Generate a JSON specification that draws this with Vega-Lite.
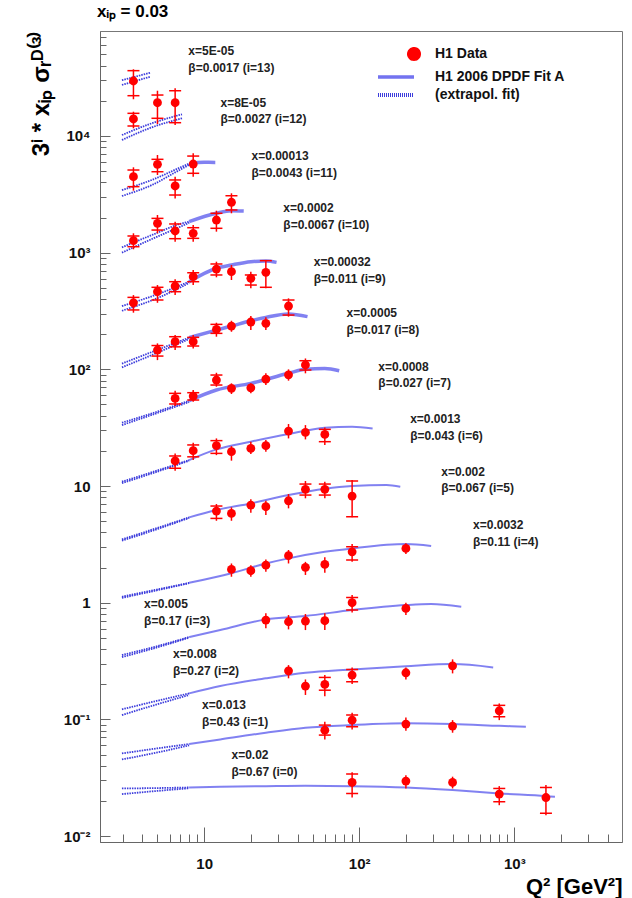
{
  "$schema": "https://vega.github.io/schema/vega-lite/v6.json",
  "width": 522,
  "height": 811,
  "autosize": {"type": "none"},
  "padding": {"left": 100, "top": 31, "right": 10, "bottom": 56},
  "background": "white",
  "config": {
    "view": {"stroke": "#777", "strokeWidth": 1},
    "font": "Liberation Sans"
  },
  "title": {
    "text": "xᵢₚ = 0.03",
    "anchor": "start",
    "frame": "group",
    "fontSize": 17,
    "font": "Liberation Sans",
    "fontWeight": "bold",
    "color": "#000",
    "offset": 10,
    "dx": -3
  },
  "datasets": {
    "pts": [
      {"i": 13, "q2": 3.5, "v": 29600, "lo": 20650, "hi": 37300, "slo": 22150, "shi": 36300},
      {"i": 12, "q2": 3.5, "v": 13990, "lo": 11640, "hi": 16150, "slo": 12180, "shi": 15640},
      {"i": 12, "q2": 5, "v": 19280, "lo": 12670, "hi": 24430, "slo": 14180, "shi": 22440},
      {"i": 12, "q2": 6.5, "v": 19280, "lo": 12420, "hi": 25650, "slo": 13000, "shi": 24430},
      {"i": 11, "q2": 3.5, "v": 4480, "lo": 3400, "hi": 5390, "slo": 3680, "shi": 5110},
      {"i": 11, "q2": 5, "v": 5720, "lo": 4630, "hi": 6870, "slo": 4940, "shi": 6310},
      {"i": 11, "q2": 6.5, "v": 3730, "lo": 2920, "hi": 4480, "slo": 3120, "shi": 4200},
      {"i": 11, "q2": 8.5, "v": 5750, "lo": 4480, "hi": 7100, "slo": 4790, "shi": 6730},
      {"i": 10, "q2": 3.5, "v": 1267, "lo": 1069, "hi": 1466, "slo": 1125, "shi": 1390},
      {"i": 10, "q2": 5, "v": 1783, "lo": 1466, "hi": 2104, "slo": 1563, "shi": 1968},
      {"i": 10, "q2": 6.5, "v": 1535, "lo": 1243, "hi": 1845, "slo": 1318, "shi": 1762},
      {"i": 10, "q2": 8.5, "v": 1466, "lo": 1243, "hi": 1726, "slo": 1327, "shi": 1637},
      {"i": 10, "q2": 12, "v": 1905, "lo": 1514, "hi": 2290, "slo": 1618, "shi": 2175},
      {"i": 10, "q2": 15, "v": 2703, "lo": 2175, "hi": 3227, "slo": 2322, "shi": 3076},
      {"i": 9, "q2": 3.5, "v": 372, "lo": 306, "hi": 433, "slo": 323, "shi": 414},
      {"i": 9, "q2": 5, "v": 463, "lo": 372, "hi": 528, "slo": 393, "shi": 505},
      {"i": 9, "q2": 6.5, "v": 518, "lo": 433, "hi": 591, "slo": 463, "shi": 564},
      {"i": 9, "q2": 8.5, "v": 623, "lo": 528, "hi": 710, "slo": 564, "shi": 673},
      {"i": 9, "q2": 12, "v": 724, "lo": 615, "hi": 837, "slo": 644, "shi": 800},
      {"i": 9, "q2": 15, "v": 687, "lo": 583, "hi": 784},
      {"i": 9, "q2": 20, "v": 603, "lo": 495, "hi": 687, "slo": 528, "shi": 644},
      {"i": 9, "q2": 25, "v": 678, "lo": 495, "hi": 865, "slo": 505, "shi": 854},
      {"i": 8, "q2": 5, "v": 146.5, "lo": 120, "hi": 167, "slo": 130, "shi": 160},
      {"i": 8, "q2": 6.5, "v": 172.6, "lo": 146.5, "hi": 197, "slo": 156, "shi": 190.5},
      {"i": 8, "q2": 8.5, "v": 172.6, "lo": 151, "hi": 197, "slo": 158.5, "shi": 188},
      {"i": 8, "q2": 12, "v": 220, "lo": 190.5, "hi": 251, "slo": 203.5, "shi": 243},
      {"i": 8, "q2": 15, "v": 235, "lo": 210, "hi": 261},
      {"i": 8, "q2": 20, "v": 254.5, "lo": 217, "hi": 286},
      {"i": 8, "q2": 25, "v": 248, "lo": 217, "hi": 279},
      {"i": 8, "q2": 35, "v": 349, "lo": 283, "hi": 406, "slo": 292, "shi": 393},
      {"i": 7, "q2": 6.5, "v": 56.4, "lo": 48.5, "hi": 65.6, "slo": 50.5, "shi": 62.3},
      {"i": 7, "q2": 8.5, "v": 59, "lo": 52.8, "hi": 66.5, "slo": 54.6, "shi": 63.1},
      {"i": 7, "q2": 12, "v": 81, "lo": 71, "hi": 93.5, "slo": 73.4, "shi": 89.4},
      {"i": 7, "q2": 15, "v": 68.8, "lo": 61.5, "hi": 75.9},
      {"i": 7, "q2": 20, "v": 69.5, "lo": 62.3, "hi": 75.9},
      {"i": 7, "q2": 25, "v": 82.4, "lo": 73.4, "hi": 92.5},
      {"i": 7, "q2": 35, "v": 89.7, "lo": 80, "hi": 100},
      {"i": 7, "q2": 45, "v": 109, "lo": 92.5, "hi": 124, "slo": 98.7, "shi": 118.6},
      {"i": 6, "q2": 6.5, "v": 16.4, "lo": 13.5, "hi": 19.05, "slo": 14.2, "shi": 18.1},
      {"i": 6, "q2": 8.5, "v": 20.1, "lo": 16.7, "hi": 23.5, "slo": 17.8, "shi": 22.5},
      {"i": 6, "q2": 12, "v": 22.2, "lo": 18.4, "hi": 25.6, "slo": 19.05, "shi": 24.5},
      {"i": 6, "q2": 15, "v": 19.7, "lo": 16.5, "hi": 22},
      {"i": 6, "q2": 20, "v": 21, "lo": 18.8, "hi": 24},
      {"i": 6, "q2": 25, "v": 22.2, "lo": 19.7, "hi": 24.8},
      {"i": 6, "q2": 35, "v": 29.6, "lo": 25.6, "hi": 34},
      {"i": 6, "q2": 45, "v": 28.8, "lo": 25.1, "hi": 33.3},
      {"i": 6, "q2": 60, "v": 27.7, "lo": 22.5, "hi": 31.8, "slo": 24, "shi": 30.6},
      {"i": 5, "q2": 12, "v": 6.1, "lo": 5.04, "hi": 7.01, "slo": 5.28, "shi": 6.74},
      {"i": 5, "q2": 15, "v": 5.83, "lo": 5.04, "hi": 6.57},
      {"i": 5, "q2": 20, "v": 6.87, "lo": 5.9, "hi": 7.69},
      {"i": 5, "q2": 25, "v": 6.65, "lo": 5.64, "hi": 7.48},
      {"i": 5, "q2": 35, "v": 7.48, "lo": 6.44, "hi": 8.54},
      {"i": 5, "q2": 45, "v": 9.37, "lo": 7.85, "hi": 11.04, "slo": 8.37, "shi": 10.4},
      {"i": 5, "q2": 60, "v": 9.37, "lo": 7.85, "hi": 10.9, "slo": 8.37, "shi": 10.4},
      {"i": 5, "q2": 90, "v": 8.2, "lo": 5.39, "hi": 11.25, "slo": 5.46, "shi": 11.04},
      {"i": 4, "q2": 15, "v": 1.93, "lo": 1.67, "hi": 2.17},
      {"i": 4, "q2": 20, "v": 1.88, "lo": 1.67, "hi": 2.1},
      {"i": 4, "q2": 25, "v": 2.1, "lo": 1.84, "hi": 2.35},
      {"i": 4, "q2": 35, "v": 2.53, "lo": 2.17, "hi": 2.83},
      {"i": 4, "q2": 45, "v": 2.01, "lo": 1.73, "hi": 2.24},
      {"i": 4, "q2": 60, "v": 2.13, "lo": 1.81, "hi": 2.45},
      {"i": 4, "q2": 90, "v": 2.73, "lo": 2.24, "hi": 3.18, "slo": 2.32, "shi": 3.02},
      {"i": 4, "q2": 200, "v": 2.92, "lo": 2.61, "hi": 3.23},
      {"i": 3, "q2": 25, "v": 0.71, "lo": 0.603, "hi": 0.811},
      {"i": 3, "q2": 35, "v": 0.687, "lo": 0.591, "hi": 0.784},
      {"i": 3, "q2": 45, "v": 0.697, "lo": 0.583, "hi": 0.8},
      {"i": 3, "q2": 60, "v": 0.701, "lo": 0.583, "hi": 0.811},
      {"i": 3, "q2": 90, "v": 1.0, "lo": 0.826, "hi": 1.164, "slo": 0.865, "shi": 1.11},
      {"i": 3, "q2": 200, "v": 0.894, "lo": 0.784, "hi": 1.0},
      {"i": 2, "q2": 35, "v": 0.261, "lo": 0.225, "hi": 0.292},
      {"i": 2, "q2": 45, "v": 0.193, "lo": 0.162, "hi": 0.22},
      {"i": 2, "q2": 60, "v": 0.1995, "lo": 0.158, "hi": 0.24, "slo": 0.178, "shi": 0.229},
      {"i": 2, "q2": 90, "v": 0.24, "lo": 0.201, "hi": 0.279, "slo": 0.21, "shi": 0.268},
      {"i": 2, "q2": 200, "v": 0.251, "lo": 0.22, "hi": 0.279},
      {"i": 2, "q2": 400, "v": 0.288, "lo": 0.248, "hi": 0.327},
      {"i": 1, "q2": 60, "v": 0.0809, "lo": 0.0674, "hi": 0.0954, "slo": 0.0734, "shi": 0.0894},
      {"i": 1, "q2": 90, "v": 0.0986, "lo": 0.082, "hi": 0.114, "slo": 0.0866, "shi": 0.109},
      {"i": 1, "q2": 200, "v": 0.0912, "lo": 0.08, "hi": 0.104},
      {"i": 1, "q2": 400, "v": 0.0877, "lo": 0.0769, "hi": 0.0986},
      {"i": 1, "q2": 800, "v": 0.1186, "lo": 0.0986, "hi": 0.137, "slo": 0.1054, "shi": 0.132},
      {"i": 0, "q2": 90, "v": 0.0288, "lo": 0.0214, "hi": 0.0352, "slo": 0.0232, "shi": 0.034},
      {"i": 0, "q2": 200, "v": 0.0296, "lo": 0.0256, "hi": 0.0333},
      {"i": 0, "q2": 400, "v": 0.0288, "lo": 0.0256, "hi": 0.0323},
      {"i": 0, "q2": 800, "v": 0.0229, "lo": 0.0184, "hi": 0.0268, "slo": 0.0197, "shi": 0.0256},
      {"i": 0, "q2": 1600, "v": 0.0214, "lo": 0.0151, "hi": 0.0274, "slo": 0.0157, "shi": 0.0261}
    ],
    "fit": [
      {"i": 11, "q2": 8, "v": 5800}, {"i": 11, "q2": 10, "v": 5950}, {"i": 11, "q2": 11.8, "v": 5940},
      {"i": 10, "q2": 8, "v": 1845}, {"i": 10, "q2": 12, "v": 2175}, {"i": 10, "q2": 15, "v": 2290}, {"i": 10, "q2": 18, "v": 2275},
      {"i": 9, "q2": 8, "v": 564}, {"i": 9, "q2": 12, "v": 735}, {"i": 9, "q2": 15, "v": 784}, {"i": 9, "q2": 20, "v": 837}, {"i": 9, "q2": 25, "v": 848}, {"i": 9, "q2": 29.3, "v": 826},
      {"i": 8, "q2": 8, "v": 187}, {"i": 8, "q2": 12, "v": 217}, {"i": 8, "q2": 15, "v": 235}, {"i": 8, "q2": 20, "v": 261}, {"i": 8, "q2": 25, "v": 279}, {"i": 8, "q2": 35, "v": 298}, {"i": 8, "q2": 46.4, "v": 283},
      {"i": 7, "q2": 8, "v": 53.8}, {"i": 7, "q2": 12, "v": 66.5}, {"i": 7, "q2": 20, "v": 75.9}, {"i": 7, "q2": 35, "v": 92.5}, {"i": 7, "q2": 45, "v": 100}, {"i": 7, "q2": 60, "v": 101.9}, {"i": 7, "q2": 74.3, "v": 97.3},
      {"i": 6, "q2": 8, "v": 16.7}, {"i": 6, "q2": 12, "v": 20.6}, {"i": 6, "q2": 20, "v": 24}, {"i": 6, "q2": 35, "v": 27.9}, {"i": 6, "q2": 60, "v": 31.6}, {"i": 6, "q2": 90, "v": 32.3}, {"i": 6, "q2": 122, "v": 31.2},
      {"i": 5, "q2": 8, "v": 5.39}, {"i": 5, "q2": 12, "v": 6.23}, {"i": 5, "q2": 20, "v": 7.1}, {"i": 5, "q2": 35, "v": 8.37}, {"i": 5, "q2": 60, "v": 9.48}, {"i": 5, "q2": 90, "v": 10}, {"i": 5, "q2": 150, "v": 10.2}, {"i": 5, "q2": 184, "v": 9.87},
      {"i": 4, "q2": 8, "v": 1.48}, {"i": 4, "q2": 15, "v": 1.79}, {"i": 4, "q2": 25, "v": 2.17}, {"i": 4, "q2": 35, "v": 2.4}, {"i": 4, "q2": 60, "v": 2.73}, {"i": 4, "q2": 90, "v": 2.92}, {"i": 4, "q2": 200, "v": 3.18}, {"i": 4, "q2": 291, "v": 3.06},
      {"i": 3, "q2": 8, "v": 0.508}, {"i": 3, "q2": 12.7, "v": 0.583}, {"i": 3, "q2": 25, "v": 0.72}, {"i": 3, "q2": 45, "v": 0.77}, {"i": 3, "q2": 90, "v": 0.865}, {"i": 3, "q2": 200, "v": 0.955}, {"i": 3, "q2": 291, "v": 0.975}, {"i": 3, "q2": 455, "v": 0.924},
      {"i": 2, "q2": 8, "v": 0.167}, {"i": 2, "q2": 12.7, "v": 0.193}, {"i": 2, "q2": 25, "v": 0.225}, {"i": 2, "q2": 45, "v": 0.251}, {"i": 2, "q2": 90, "v": 0.268}, {"i": 2, "q2": 200, "v": 0.286}, {"i": 2, "q2": 400, "v": 0.298}, {"i": 2, "q2": 731, "v": 0.279},
      {"i": 1, "q2": 8, "v": 0.0615}, {"i": 1, "q2": 12.7, "v": 0.0674}, {"i": 1, "q2": 25, "v": 0.0769}, {"i": 1, "q2": 45, "v": 0.0848}, {"i": 1, "q2": 90, "v": 0.0894}, {"i": 1, "q2": 200, "v": 0.0925}, {"i": 1, "q2": 400, "v": 0.0912}, {"i": 1, "q2": 800, "v": 0.0882}, {"i": 1, "q2": 1188, "v": 0.0866},
      {"i": 0, "q2": 8, "v": 0.0261}, {"i": 0, "q2": 12.7, "v": 0.0265}, {"i": 0, "q2": 25, "v": 0.0268}, {"i": 0, "q2": 45, "v": 0.027}, {"i": 0, "q2": 90, "v": 0.0268}, {"i": 0, "q2": 200, "v": 0.0261}, {"i": 0, "q2": 400, "v": 0.0248}, {"i": 0, "q2": 800, "v": 0.0232}, {"i": 0, "q2": 1600, "v": 0.022}, {"i": 0, "q2": 1829, "v": 0.0217}
    ],
    "ext": [
      {"i": 13, "e": "u", "q2": 2.95, "v": 30100}, {"i": 13, "e": "u", "q2": 4.49, "v": 34800},
      {"i": 13, "e": "l", "q2": 2.95, "v": 27400}, {"i": 13, "e": "l", "q2": 4.49, "v": 32200},
      {"i": 12, "e": "u", "q2": 2.95, "v": 10190}, {"i": 12, "e": "u", "q2": 4.6, "v": 12850}, {"i": 12, "e": "u", "q2": 7.2, "v": 15350},
      {"i": 12, "e": "l", "q2": 2.95, "v": 9240}, {"i": 12, "e": "l", "q2": 4.6, "v": 11860}, {"i": 12, "e": "l", "q2": 7.2, "v": 14180},
      {"i": 11, "e": "u", "q2": 2.95, "v": 3440}, {"i": 11, "e": "u", "q2": 4.6, "v": 4200}, {"i": 11, "e": "u", "q2": 7.2, "v": 5460}, {"i": 11, "e": "u", "q2": 8, "v": 5800},
      {"i": 11, "e": "l", "q2": 2.95, "v": 3060}, {"i": 11, "e": "l", "q2": 4.6, "v": 3800}, {"i": 11, "e": "l", "q2": 7.2, "v": 5250}, {"i": 11, "e": "l", "q2": 8, "v": 5650},
      {"i": 10, "e": "u", "q2": 2.95, "v": 1111}, {"i": 10, "e": "u", "q2": 4.6, "v": 1416}, {"i": 10, "e": "u", "q2": 7.2, "v": 1783}, {"i": 10, "e": "u", "q2": 8, "v": 1845},
      {"i": 10, "e": "l", "q2": 2.95, "v": 1000}, {"i": 10, "e": "l", "q2": 4.6, "v": 1309}, {"i": 10, "e": "l", "q2": 7.2, "v": 1693}, {"i": 10, "e": "l", "q2": 8, "v": 1800},
      {"i": 9, "e": "u", "q2": 2.95, "v": 349}, {"i": 9, "e": "u", "q2": 5, "v": 440}, {"i": 9, "e": "u", "q2": 8, "v": 564},
      {"i": 9, "e": "l", "q2": 2.95, "v": 318}, {"i": 9, "e": "l", "q2": 5, "v": 408}, {"i": 9, "e": "l", "q2": 8, "v": 550},
      {"i": 8, "e": "u", "q2": 2.95, "v": 112}, {"i": 8, "e": "u", "q2": 5, "v": 147}, {"i": 8, "e": "u", "q2": 8, "v": 187},
      {"i": 8, "e": "l", "q2": 2.95, "v": 104}, {"i": 8, "e": "l", "q2": 5, "v": 139}, {"i": 8, "e": "l", "q2": 8, "v": 182},
      {"i": 7, "e": "u", "q2": 2.95, "v": 34.9}, {"i": 7, "e": "u", "q2": 5, "v": 43.5}, {"i": 7, "e": "u", "q2": 8, "v": 53.8},
      {"i": 7, "e": "l", "q2": 2.95, "v": 33.3}, {"i": 7, "e": "l", "q2": 5, "v": 42.3}, {"i": 7, "e": "l", "q2": 8, "v": 52.5},
      {"i": 6, "e": "u", "q2": 2.95, "v": 10.9}, {"i": 6, "e": "u", "q2": 5, "v": 13.6}, {"i": 6, "e": "u", "q2": 8, "v": 16.7},
      {"i": 6, "e": "l", "q2": 2.95, "v": 10.6}, {"i": 6, "e": "l", "q2": 5, "v": 13.3}, {"i": 6, "e": "l", "q2": 8, "v": 16.5},
      {"i": 5, "e": "u", "q2": 2.95, "v": 3.49}, {"i": 5, "e": "u", "q2": 5, "v": 4.38}, {"i": 5, "e": "u", "q2": 8, "v": 5.39},
      {"i": 5, "e": "l", "q2": 2.95, "v": 3.4}, {"i": 5, "e": "l", "q2": 5, "v": 4.28}, {"i": 5, "e": "l", "q2": 8, "v": 5.33},
      {"i": 4, "e": "u", "q2": 2.95, "v": 1.125}, {"i": 4, "e": "u", "q2": 5, "v": 1.3}, {"i": 4, "e": "u", "q2": 8, "v": 1.48},
      {"i": 4, "e": "l", "q2": 2.95, "v": 1.1}, {"i": 4, "e": "l", "q2": 5, "v": 1.28}, {"i": 4, "e": "l", "q2": 8, "v": 1.47},
      {"i": 3, "e": "u", "q2": 2.95, "v": 0.356}, {"i": 3, "e": "u", "q2": 5, "v": 0.425}, {"i": 3, "e": "u", "q2": 8, "v": 0.508},
      {"i": 3, "e": "l", "q2": 2.95, "v": 0.342}, {"i": 3, "e": "l", "q2": 5, "v": 0.415}, {"i": 3, "e": "l", "q2": 8, "v": 0.503},
      {"i": 2, "e": "u", "q2": 2.95, "v": 0.122}, {"i": 2, "e": "u", "q2": 5, "v": 0.1446}, {"i": 2, "e": "u", "q2": 8, "v": 0.167},
      {"i": 2, "e": "l", "q2": 2.95, "v": 0.109}, {"i": 2, "e": "l", "q2": 5, "v": 0.135}, {"i": 2, "e": "l", "q2": 8, "v": 0.162},
      {"i": 1, "e": "u", "q2": 2.95, "v": 0.0511}, {"i": 1, "e": "u", "q2": 5, "v": 0.0565}, {"i": 1, "e": "u", "q2": 8, "v": 0.0615},
      {"i": 1, "e": "l", "q2": 2.95, "v": 0.0454}, {"i": 1, "e": "l", "q2": 5, "v": 0.0521}, {"i": 1, "e": "l", "q2": 8, "v": 0.06},
      {"i": 0, "e": "u", "q2": 2.95, "v": 0.0256}, {"i": 0, "e": "u", "q2": 5, "v": 0.0258}, {"i": 0, "e": "u", "q2": 8, "v": 0.0261},
      {"i": 0, "e": "l", "q2": 2.95, "v": 0.0229}, {"i": 0, "e": "l", "q2": 5, "v": 0.0244}, {"i": 0, "e": "l", "q2": 8, "v": 0.0257}
    ],
    "lab": [
      {"i": 13, "q2": 7.91, "v": 59000, "t": "x=5E-05\nβ=0.0017 (i=13)"},
      {"i": 12, "q2": 12.74, "v": 21180, "t": "x=8E-05\nβ=0.0027 (i=12)"},
      {"i": 11, "q2": 20.2, "v": 7430, "t": "x=0.00013\nβ=0.0043 (i=11)"},
      {"i": 10, "q2": 32.4, "v": 2665, "t": "x=0.0002\nβ=0.0067 (i=10)"},
      {"i": 9, "q2": 50.9, "v": 918, "t": "x=0.00032\nβ=0.011 (i=9)"},
      {"i": 8, "q2": 82.9, "v": 333, "t": "x=0.0005\nβ=0.017 (i=8)"},
      {"i": 7, "q2": 132.8, "v": 116.2, "t": "x=0.0008\nβ=0.027 (i=7)"},
      {"i": 6, "q2": 213, "v": 41.4, "t": "x=0.0013\nβ=0.043 (i=6)"},
      {"i": 5, "q2": 338, "v": 14.63, "t": "x=0.002\nβ=0.067 (i=5)"},
      {"i": 4, "q2": 542, "v": 5.11, "t": "x=0.0032\nβ=0.11 (i=4)"},
      {"i": 3, "q2": 4.1, "v": 1.075, "t": "x=0.005\nβ=0.17 (i=3)"},
      {"i": 2, "q2": 6.3, "v": 0.401, "t": "x=0.008\nβ=0.27 (i=2)"},
      {"i": 1, "q2": 9.7, "v": 0.1466, "t": "x=0.013\nβ=0.43 (i=1)"},
      {"i": 0, "q2": 15.0, "v": 0.0546, "t": "x=0.02\nβ=0.67 (i=0)"}
    ]
  },
  "layer": [
    {
      "data": {"name": "pts"},
      "mark": {"type": "point", "shape": "circle", "filled": true, "size": 78, "opacity": 0},
      "encoding": {
        "x": {
          "field": "q2", "type": "quantitative",
          "scale": {"type": "log", "domain": [2.13, 4950], "nice": false},
          "axis": {
            "values": [3, 4, 5, 6, 7, 8, 9, 10, 20, 30, 40, 50, 60, 70, 80, 90, 100, 200, 300, 400, 500, 600, 700, 800, 900, 1000, 2000, 3000, 4000],
            "labelExpr": "datum.value == 10 ? '10' : datum.value == 100 ? '10²' : datum.value == 1000 ? '10³' : ''",
            "tickSize": {"condition": {"test": "datum.value == 10 || datum.value == 100 || datum.value == 1000", "value": -15}, "value": -8},
            "tickColor": "#666", "domainColor": "#666", "grid": false,
            "labelPadding": 29, "labelFontSize": 15, "labelFontWeight": "bold", "labelColor": "#111", "labelFlush": false,
            "title": "Q² [GeV²]", "titleFontSize": 22, "titleFontWeight": "bold", "titleColor": "#000",
            "titleAnchor": "end", "titleAlign": "right", "titlePadding": 5
          }
        },
        "y": {
          "field": "v", "type": "quantitative",
          "scale": {"type": "log", "domain": [0.0089, 79400], "nice": false},
          "axis": {
            "values": [0.01, 0.02, 0.03, 0.04, 0.05, 0.06, 0.07, 0.08, 0.09, 0.1, 0.2, 0.3, 0.4, 0.5, 0.6, 0.7, 0.8, 0.9, 1, 2, 3, 4, 5, 6, 7, 8, 9, 10, 20, 30, 40, 50, 60, 70, 80, 90, 100, 200, 300, 400, 500, 600, 700, 800, 900, 1000, 2000, 3000, 4000, 5000, 6000, 7000, 8000, 9000, 10000, 20000, 30000, 40000, 50000, 60000, 70000],
            "labelExpr": "datum.value == 10000 ? '10⁴' : datum.value == 1000 ? '10³' : datum.value == 100 ? '10²' : datum.value == 10 ? '10' : datum.value == 1 ? '1' : datum.value == 0.1 ? '10⁻¹' : datum.value == 0.01 ? '10⁻²' : ''",
            "tickSize": {"condition": {"test": "indexof([0.01, 0.1, 1, 10, 100, 1000, 10000], datum.value) >= 0", "value": -10}, "value": -6},
            "tickColor": "#666", "domainColor": "#666", "grid": false,
            "labelPadding": 20, "labelFontSize": 15, "labelFontWeight": "bold", "labelColor": "#111", "labelFlush": false,
            "title": "3ⁱ * xᵢₚ σᵣᴰ⁽³⁾", "titleFontSize": 24, "titleFontWeight": "bold", "titleColor": "#000",
            "titleAnchor": "end", "titlePadding": 10
          }
        },
        "color": {
          "datum": "H1 Data",
          "scale": {
            "domain": ["H1 Data", "H1 2006 DPDF Fit A", "(extrapol. fit)"],
            "range": ["#ff0000", "#7373f0", "#3c3cdc"]
          },
          "legend": {
            "title": null,
            "orient": "none",
            "legendX": 289,
            "legendY": 16,
            "padding": 0,
            "symbolSize": 400,
            "rowPadding": 3,
            "labelOffset": 32,
            "labelFontSize": 14,
            "labelFont": "Liberation Sans",
            "labelFontWeight": "bold",
            "labelColor": "#111",
            "labelLimit": 400,
            "encode": {
              "symbols": {
                "update": {
                  "shape": {"signal": "datum.value === 'H1 Data' ? 'M1.3,0A0.5,0.5 0 1,1 2.3,0A0.5,0.5 0 1,1 1.3,0Z' : 'M-1.8,0L1.8,0'"},
                  "fill": {"signal": "datum.value === 'H1 Data' ? '#ff0000' : 'transparent'"},
                  "stroke": {"signal": "datum.value === 'H1 Data' ? 'transparent' : datum.value === '(extrapol. fit)' ? '#7a7af0' : '#7373f0'"},
                  "strokeWidth": {"signal": "datum.value === 'H1 2006 DPDF Fit A' ? 3.5 : 4"},
                  "strokeDash": {"signal": "datum.value === '(extrapol. fit)' ? [1, 1] : [1, 0]"},
                  "opacity": {"value": 1}
                }
              }
            }
          }
        }
      }
    },
    {
      "data": {"name": "ext"},
      "mark": {"type": "line", "strokeDash": [1.5, 1], "strokeWidth": 1.8, "interpolate": "monotone"},
      "encoding": {
        "x": {"field": "q2", "type": "quantitative", "scale": {"type": "log"}},
        "y": {"field": "v", "type": "quantitative", "scale": {"type": "log"}},
        "detail": [{"field": "i"}, {"field": "e"}],
        "color": {"datum": "(extrapol. fit)"}
      }
    },
    {
      "data": {"name": "fit"},
      "mark": {"type": "line", "interpolate": "monotone", "opacity": 0.9},
      "encoding": {
        "x": {"field": "q2", "type": "quantitative", "scale": {"type": "log"}},
        "y": {"field": "v", "type": "quantitative", "scale": {"type": "log"}},
        "detail": {"field": "i"},
        "strokeWidth": {"condition": {"test": "datum.i >= 7", "value": 3.5}, "value": 2},
        "color": {"datum": "H1 2006 DPDF Fit A"}
      }
    },
    {
      "data": {"name": "pts"},
      "mark": {"type": "rule", "color": "#ff0000", "strokeWidth": 1.5},
      "encoding": {
        "x": {"field": "q2", "type": "quantitative", "scale": {"type": "log"}},
        "y": {"field": "lo", "type": "quantitative", "scale": {"type": "log"}},
        "y2": {"field": "hi"}
      }
    },
    {
      "data": {"name": "pts"},
      "transform": [{"filter": "isValid(datum.slo)"}],
      "mark": {"type": "tick", "orient": "horizontal", "color": "#ff0000", "size": 12, "thickness": 1.5, "opacity": 1},
      "encoding": {
        "x": {"field": "q2", "type": "quantitative", "scale": {"type": "log"}},
        "y": {"field": "slo", "type": "quantitative", "scale": {"type": "log"}}
      }
    },
    {
      "data": {"name": "pts"},
      "transform": [{"filter": "isValid(datum.shi)"}],
      "mark": {"type": "tick", "orient": "horizontal", "color": "#ff0000", "size": 12, "thickness": 1.5, "opacity": 1},
      "encoding": {
        "x": {"field": "q2", "type": "quantitative", "scale": {"type": "log"}},
        "y": {"field": "shi", "type": "quantitative", "scale": {"type": "log"}}
      }
    },
    {
      "data": {"name": "pts"},
      "mark": {"type": "point", "shape": "circle", "filled": true, "size": 78, "opacity": 1},
      "encoding": {
        "x": {"field": "q2", "type": "quantitative", "scale": {"type": "log"}},
        "y": {"field": "v", "type": "quantitative", "scale": {"type": "log"}},
        "color": {"datum": "H1 Data"}
      }
    },
    {
      "data": {"name": "lab"},
      "mark": {"type": "text", "align": "left", "baseline": "top", "lineBreak": "\n", "lineHeight": 16.5, "font": "Liberation Sans", "fontWeight": "bold", "fontSize": 12, "color": "#222"},
      "encoding": {
        "x": {"field": "q2", "type": "quantitative", "scale": {"type": "log"}},
        "y": {"field": "v", "type": "quantitative", "scale": {"type": "log"}},
        "text": {"field": "t"}
      }
    }
  ]
}
